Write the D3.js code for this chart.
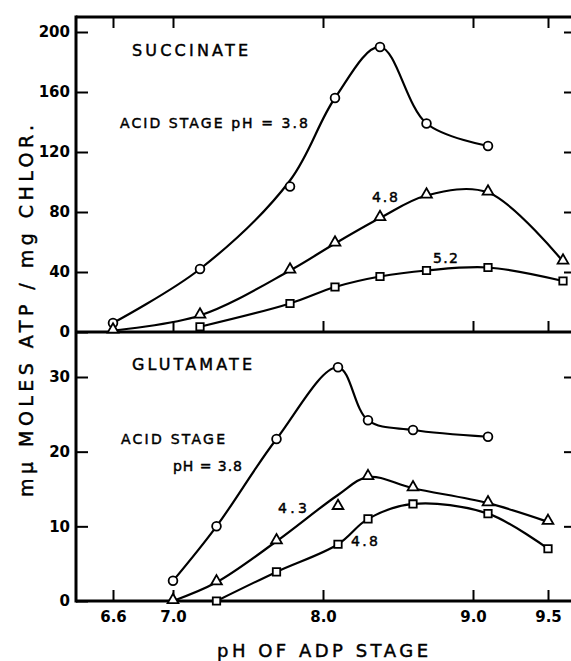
<!DOCTYPE html>
<html>
<head>
<meta charset="utf-8">
<script src="https://cdn.jsdelivr.net/npm/d3@7"></script>
<style>
  body { margin: 0; background: #fff; }
  svg { display: block; }
  text { font-family: "DejaVu Sans", sans-serif; fill: #000; }
  .tick text { font-weight: bold; font-size: 15px; }
  .label, .title { stroke: #000; stroke-width: 0.45px; }
</style>
</head>
<body>
<svg width="571" height="661"></svg>
<script>
// succinate panel (top)
let phTop = [6.6, 7.18, 7.78, 8.08, 8.38, 8.69, 9.1, 9.6];
let succ38 = [6, 42, 97, 156, 190, 139, 124, null];
let succ38Curve = [6, 42, 101, 156, 190, 139, 124, null];
let succ48 = [1, 11, 41, 59, 76, 91, 93, 47];
let succ52 = [null, 3.5, 19, 30, 37, 41, 43, 34];

// glutamate panel (bottom)
let phBottom = [7.0, 7.29, 7.69, 8.1, 8.3, 8.6, 9.1, 9.5];
let glu38 = [2.7, 10, 21.7, 31.3, 24.2, 22.9, 22, null];
let glu43 = [0, 2.5, 8, 12.6, 16.6, 15.1, 13.1, 10.6];
let glu43Curve = [0, 2.5, 8, 14.2, 16.6, 15.1, 13.1, 10.6];
let glu48 = [null, 0, 3.9, 7.6, 11, 13, 11.7, 7];

let xTicks = [6.6, 7.0, 8.0, 9.0, 9.5];
let yTicksTop = [0, 40, 80, 120, 160, 200];
let yTicksBottom = [0, 10, 20, 30];

function render() {
  let svg = d3.select("svg");

  let left = 76, right = 571, top = 17, mid = 332, bottom = 601;

  let xScale = d3.scaleLinear().domain([7.0, 9.5]).range([173, 548]);
  let yTop = d3.scaleLinear().domain([0, 200]).range([mid, 32]);
  let yBottom = d3.scaleLinear().domain([0, 30]).range([bottom, 377]);

  // frame lines
  let frame = svg.append("g").attr("stroke", "#000").attr("stroke-width", 3);
  frame.append("line").attr("x1", left).attr("x2", right).attr("y1", top).attr("y2", top);
  frame.append("line").attr("x1", left).attr("x2", right).attr("y1", mid).attr("y2", mid);
  frame.append("line").attr("x1", left).attr("x2", right).attr("y1", bottom).attr("y2", bottom);
  frame.append("line").attr("x1", left).attr("x2", left).attr("y1", top - 1.5).attr("y2", bottom + 1.5);

  // y axes, ticks pointing inward
  svg.append("g")
    .attr("transform", `translate(${left}, 0)`)
    .call(cleanAxis(d3.axisLeft(yTop).tickValues(yTicksTop).tickSize(-12).tickPadding(6).tickFormat(d3.format("d"))));
  svg.append("g")
    .attr("transform", `translate(${left}, 0)`)
    .call(cleanAxis(d3.axisLeft(yBottom).tickValues(yTicksBottom).tickSize(-12).tickPadding(6).tickFormat(d3.format("d"))));
  // right side ticks, no labels
  svg.append("g")
    .attr("transform", `translate(${right}, 0)`)
    .call(cleanAxis(d3.axisRight(yTop).tickValues(yTicksTop.slice(1)).tickSize(-7).tickFormat("")));
  svg.append("g")
    .attr("transform", `translate(${right}, 0)`)
    .call(cleanAxis(d3.axisRight(yBottom).tickValues(yTicksBottom.slice(1)).tickSize(-7).tickFormat("")));

  // x ticks
  svg.append("g")
    .attr("transform", `translate(0, ${top})`)
    .call(cleanAxis(d3.axisTop(xScale).tickValues(xTicks).tickSize(-11).tickFormat("")));
  svg.append("g")
    .attr("transform", `translate(0, ${mid})`)
    .call(cleanAxis(d3.axisBottom(xScale).tickValues(xTicks).tickSize(-11).tickFormat("")));
  svg.append("g")
    .attr("transform", `translate(0, ${bottom})`)
    .call(cleanAxis(d3.axisBottom(xScale).tickValues(xTicks).tickSize(-11).tickPadding(10).tickFormat(d3.format(".1f"))));

  // series
  drawSeries(svg, phTop, succ38, succ38Curve, xScale, yTop, "circle");
  drawSeries(svg, phTop, succ48, succ48, xScale, yTop, "triangle");
  drawSeries(svg, phTop, succ52, succ52, xScale, yTop, "square");
  drawSeries(svg, phBottom, glu38, glu38, xScale, yBottom, "circle");
  drawSeries(svg, phBottom, glu43, glu43Curve, xScale, yBottom, "triangle");
  drawSeries(svg, phBottom, glu48, glu48, xScale, yBottom, "square");

  // labels
  let labels = [
    {text: "SUCCINATE", x: 132, y: 56, w: 116, size: 16},
    {text: "ACID STAGE pH = 3.8", x: 120, y: 128, w: 188, size: 14},
    {text: "4.8", x: 372, y: 202, w: 26, size: 14},
    {text: "5.2", x: 433, y: 263, w: 25, size: 14},
    {text: "GLUTAMATE", x: 132, y: 370, w: 120, size: 16},
    {text: "ACID STAGE", x: 121, y: 444, w: 104, size: 14},
    {text: "pH = 3.8", x: 173, y: 471, w: 69, size: 14},
    {text: "4.3", x: 278, y: 513, w: 29, size: 14},
    {text: "4.8", x: 351, y: 546, w: 27, size: 14},
  ];
  svg.selectAll(".label")
    .data(labels)
    .enter()
    .append("text")
    .attr("class", "label")
    .attr("x", d => d.x)
    .attr("y", d => d.y)
    .attr("font-size", d => d.size)
    .attr("textLength", d => d.w)
    .attr("lengthAdjust", "spacing")
    .text(d => d.text);

  // axis titles
  svg.append("text")
    .attr("class", "title")
    .attr("x", 217)
    .attr("y", 657)
    .attr("font-size", 18)
    .attr("textLength", 211)
    .attr("lengthAdjust", "spacing")
    .text("pH OF ADP STAGE");

  svg.append("text")
    .attr("class", "title")
    .attr("transform", `translate(33, 311) rotate(-90)`)
    .attr("text-anchor", "middle")
    .attr("font-size", 19)
    .attr("textLength", 372)
    .attr("lengthAdjust", "spacing")
    .text("mμ MOLES ATP / mg CHLOR.");
}

function cleanAxis(axis) {
  return g => {
    g.call(axis);
    g.select(".domain").remove();
    g.selectAll(".tick line").attr("stroke", "#000").attr("stroke-width", 2);
  };
}

function drawSeries(svg, xs, values, curveValues, xScale, yScale, shape) {
  let curvePts = xs.map((x, i) => [x, curveValues[i]]).filter(d => d[1] !== null);
  let line = d3.line()
    .x(d => xScale(d[0]))
    .y(d => yScale(d[1]))
    .curve(d3.curveCatmullRom.alpha(0.5));

  svg.append("path")
    .attr("d", line(curvePts))
    .attr("fill", "none")
    .attr("stroke", "#000")
    .attr("stroke-width", 2.2);

  let pts = xs.map((x, i) => [x, values[i]]).filter(d => d[1] !== null);
  let symbolType = shape === "circle" ? d3.symbolCircle : shape === "triangle" ? d3.symbolTriangle : d3.symbolSquare;
  let symbolSize = shape === "circle" ? 60 : shape === "triangle" ? 50 : 55;
  svg.selectAll(null)
    .data(pts)
    .enter()
    .append("path")
    .attr("transform", d => `translate(${xScale(d[0])}, ${yScale(d[1]) - (shape === "triangle" ? 1 : 0)})`)
    .attr("d", d3.symbol().type(symbolType).size(symbolSize))
    .attr("fill", "#fff")
    .attr("stroke", "#000")
    .attr("stroke-width", 1.8);
}

render();
</script>
</body>
</html>
